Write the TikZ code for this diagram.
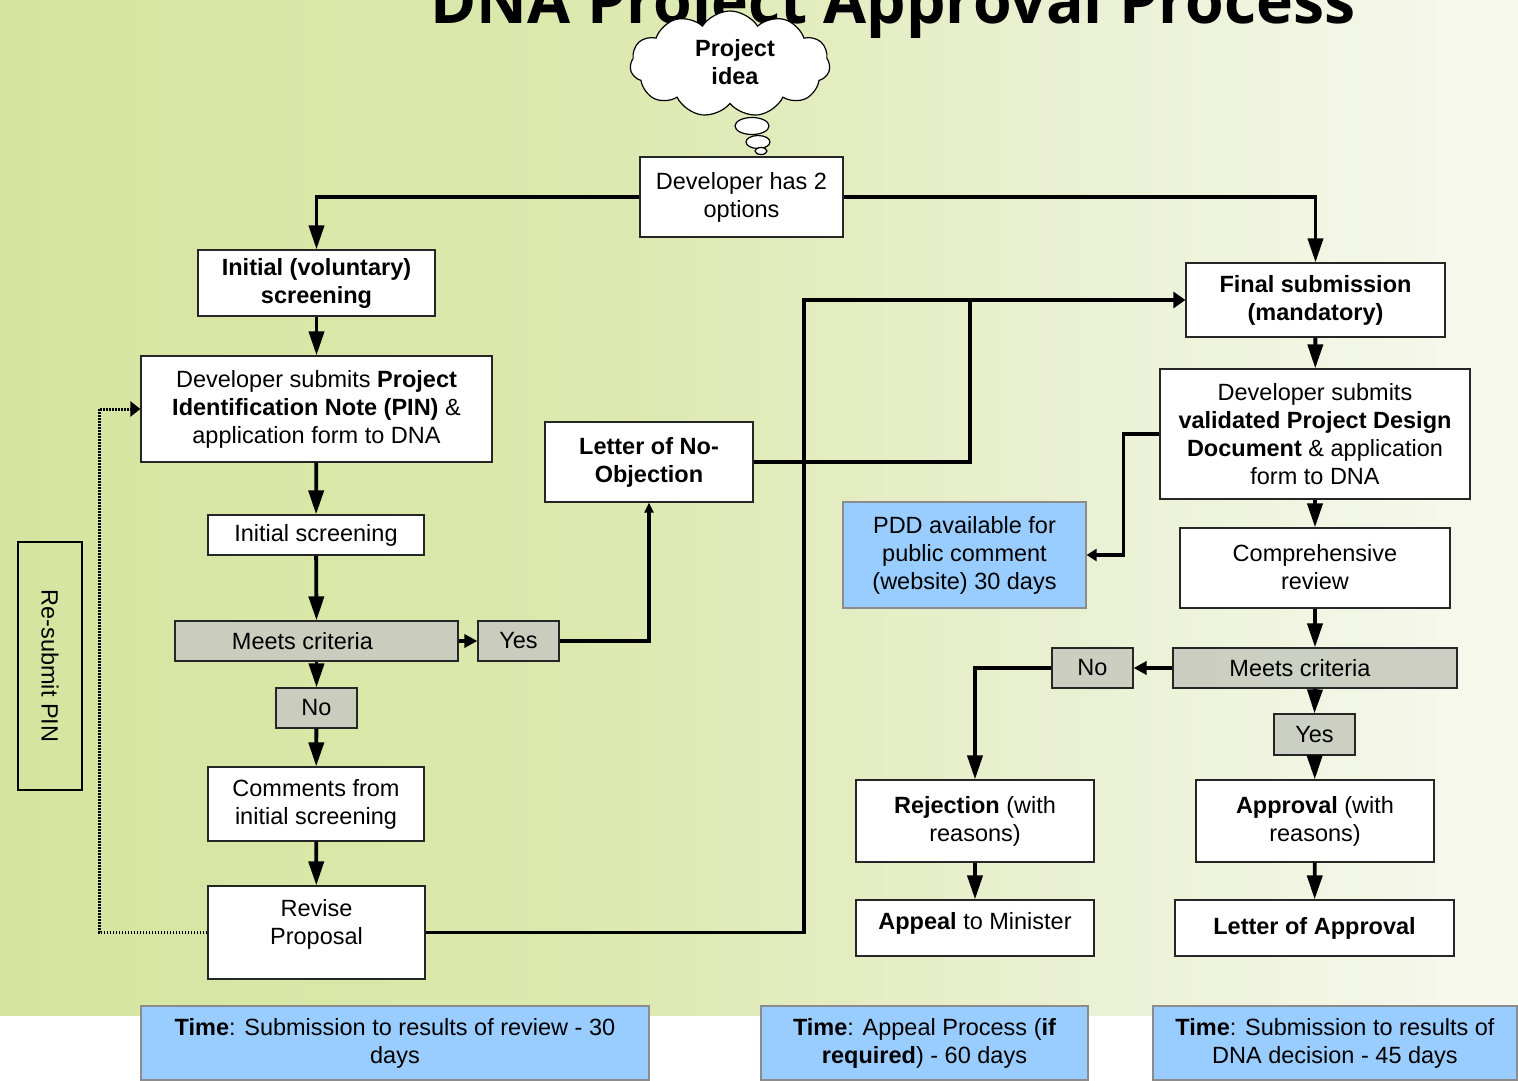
\documentclass[tikz,border=0pt]{standalone}
\usepackage{fontspec}
\setmainfont{Liberation Sans}
\newfontfamily\titlefont{Open Sans}
\usetikzlibrary{arrows.meta,shapes.symbols}
\definecolor{bgL}{HTML}{D5E59F}
\definecolor{bgA}{HTML}{DCE9AF}
\definecolor{bgB}{HTML}{E9F0D0}
\definecolor{bgR}{HTML}{F7F9EF}
\definecolor{blueF}{HTML}{99CCFF}
\definecolor{grayF}{HTML}{C9CBC0}
\pgfdeclarehorizontalshading{bgsh}{100bp}{color(0bp)=(bgL); color(25bp)=(bgL); color(45bp)=(bgA); color(59bp)=(bgB); color(75bp)=(bgR); color(100bp)=(bgR)}
\begin{document}
\begin{tikzpicture}[x=1pt,y=-1pt,
  box/.style={draw=black!85, line width=1.2pt, fill=white, align=center, inner sep=0pt,
              font=\fontsize{23.5}{28}\selectfont},
  gbox/.style={box, fill=grayF, fill opacity=0.9, text opacity=1},
  bbox/.style={box, fill=blueF, draw=black!45},
  conn/.style={line width=3.8pt, -{Triangle[length=24pt,width=15pt]}},
  sconn/.style={line width=3.8pt, -{Triangle[length=13pt,width=13pt]}},
  plain/.style={line width=3.8pt},
]
\useasboundingbox (0,0) rectangle (1518,1081);
% background
\shade[shading=bgsh] (0,0) rectangle (1518,1016);
\fill[white] (0,1016) rectangle (1518,1081);

% title
\node[anchor=base, font=\titlefont\bfseries\fontsize{62.5}{70}\selectfont, inner sep=0pt] (title) at (893,24) {DNA Project Approval Process};

% cloud
\node[cloud, draw=black, line width=1.2pt, fill=white, cloud puffs=11, cloud puff arc=115, aspect=1.9,
      minimum width=200pt, minimum height=106pt, inner sep=0pt, align=center,
      font=\bfseries\fontsize{23.5}{28}\selectfont] (idea) at (730,64) {\raisebox{5pt}{\hspace*{10pt}Project}\\\raisebox{5pt}{\hspace*{10pt}idea}};
\draw[fill=white, line width=1.2pt] (752,126) ellipse [x radius=17pt, y radius=8.5pt];
\draw[fill=white, line width=1.2pt] (758,142) ellipse [x radius=12pt, y radius=6.5pt];
\draw[fill=white, line width=1.2pt] (761,151) ellipse [x radius=6pt, y radius=3.5pt];

% left column
\node[box, minimum width=203pt, minimum height=80pt] (opts) at (741.5,197) {\raisebox{3pt}{Developer has 2}\\\raisebox{3pt}{options}};
\node[box, minimum width=237pt, minimum height=66pt, font=\bfseries\fontsize{23.5}{28}\selectfont] (init) at (316.5,283) {Initial (voluntary)\\screening};
\node[box, minimum width=351pt, minimum height=106pt] (pin) at (316.5,409) {Developer submits \textbf{Project}\\\textbf{Identification Note (PIN)} \&\\application form to DNA};
\node[box, minimum width=216pt, minimum height=40pt] (iscr) at (316,535) {\raisebox{-2pt}{Initial screening}};
\node[gbox, minimum width=283pt, minimum height=40pt] (meetsL) at (316.5,641) {\raisebox{-2pt}{Meets criteria}\hspace*{28pt}};
\node[gbox, minimum width=81pt, minimum height=40pt] (yesL) at (518.5,641) {\raisebox{-2pt}{Yes}};
\node[gbox, minimum width=81pt, minimum height=40pt] (noL) at (316.5,708) {\raisebox{-2pt}{No}};
\node[box, minimum width=216pt, minimum height=74pt] (comm) at (316,804) {Comments from\\initial screening};
\node[box, minimum width=217pt, minimum height=93pt, text depth=22pt] (rev) at (316.5,932.5) {Revise\\Proposal};
\node[box, minimum width=208pt, minimum height=80pt, font=\bfseries\fontsize{23.5}{28}\selectfont] (lno) at (649,462) {\raisebox{3pt}{Letter of No-}\\\raisebox{3pt}{Objection}};
\node[draw=black, line width=1.6pt, minimum width=248pt, minimum height=64pt, inner sep=0pt,
      rotate=-90, font=\fontsize{23.5}{28}\selectfont] (resub) at (50,666) {Re-submit PIN};

% right column
\node[box, minimum width=259pt, minimum height=74pt, font=\bfseries\fontsize{23.5}{28}\selectfont] (final) at (1315.5,300) {Final submission\\(mandatory)};
\node[box, minimum width=310pt, minimum height=130pt] (pdd) at (1315,434) {Developer submits\\\textbf{validated Project Design}\\\textbf{Document} \& application\\form to DNA};
\node[bbox, minimum width=243pt, minimum height=106pt] (pub) at (964.5,555) {PDD available for\\public comment\\(website) 30 days};
\node[box, minimum width=270pt, minimum height=80pt] (comp) at (1315,568) {\raisebox{3pt}{Comprehensive}\\\raisebox{3pt}{review}};
\node[gbox, minimum width=284pt, minimum height=40pt] (meetsR) at (1315,668) {\raisebox{-2pt}{Meets criteria}\hspace*{30pt}};
\node[gbox, minimum width=81pt, minimum height=40pt] (noR) at (1092.5,668) {\raisebox{-2pt}{No}};
\node[gbox, minimum width=81pt, minimum height=41pt] (yesR) at (1314.5,734.5) {\raisebox{-2pt}{Yes}};
\node[box, minimum width=238pt, minimum height=82pt] (rej) at (975,821) {\raisebox{2pt}{\textbf{Rejection} (with}\\\raisebox{2pt}{reasons)}};
\node[box, minimum width=238pt, minimum height=82pt] (appr) at (1315,821) {\raisebox{2pt}{\textbf{Approval} (with}\\\raisebox{2pt}{reasons)}};
\node[box, minimum width=238pt, minimum height=56pt, text depth=14pt] (appeal) at (975,928) {\textbf{Appeal} to Minister};
\node[box, minimum width=279pt, minimum height=56pt, font=\bfseries\fontsize{23.5}{28}\selectfont] (loa) at (1314.5,928) {Letter of Approval};

% time boxes
\node[bbox, minimum width=508pt, minimum height=74pt] (t1) at (395,1043) {\textbf{Time}: Submission to results of review - 30\\days};
\node[bbox, minimum width=327pt, minimum height=74pt] (t2) at (924.5,1043) {\textbf{Time}: Appeal Process (\textbf{if}\\\textbf{required}) - 60 days};
\node[bbox, minimum width=364pt, minimum height=74pt] (t3) at (1335,1043) {\textbf{Time}: Submission to results of\\DNA decision - 45 days};

% connectors
\draw[conn] (opts.west) -| (init.north);
\draw[conn] (opts.east) -| (final.north);
\draw[conn] (init) -- (pin);
\draw[conn] (pin) -- (iscr);
\draw[conn] (iscr) -- (meetsL.north);
\draw[sconn] (meetsL.east) -- (yesL.west);
\draw[conn] (meetsL.south) -- (noL.north);
\draw[conn] (noL) -- (comm);
\draw[conn] (comm) -- (rev);
\draw[line width=3.8pt, -{Triangle[length=10pt,width=9pt]}] (yesL.east) -| (lno.south);
\coordinate (j1) at (970,300);
\coordinate (j2) at (804,300);
\draw[plain] (lno.east) -| (j1);
\draw[plain] (rev.east) -| (j2) -- (j1);
\draw[line width=3.8pt, -{Triangle[length=12pt,width=16pt]}] (j1) -- (final.west);
\coordinate (d1) at (99,409);
\draw[line width=3pt, dash pattern=on 1.6pt off 1.4pt, -{Triangle[length=10pt,width=15pt]}] (rev.west) -| (d1) -- (pin.west);

\draw[conn] (final) -- (pdd);
\draw[line width=3.8pt, -{Triangle[length=10pt,width=12pt]}] (pdd.west) -- ++(-36,0) |- (pub.east);
\draw[conn] (pdd) -- (comp);
\draw[conn] (comp) -- (meetsR.north);
\draw[sconn] (meetsR.west) -- (noR.east);
\draw[conn] (noR.west) -| (rej.north);
\draw[conn] (meetsR.south) -- (yesR.north);
\draw[conn] (yesR) -- (appr);
\draw[conn] (rej) -- (appeal);
\draw[conn] (appr) -- (loa);
\end{tikzpicture}
\end{document}
